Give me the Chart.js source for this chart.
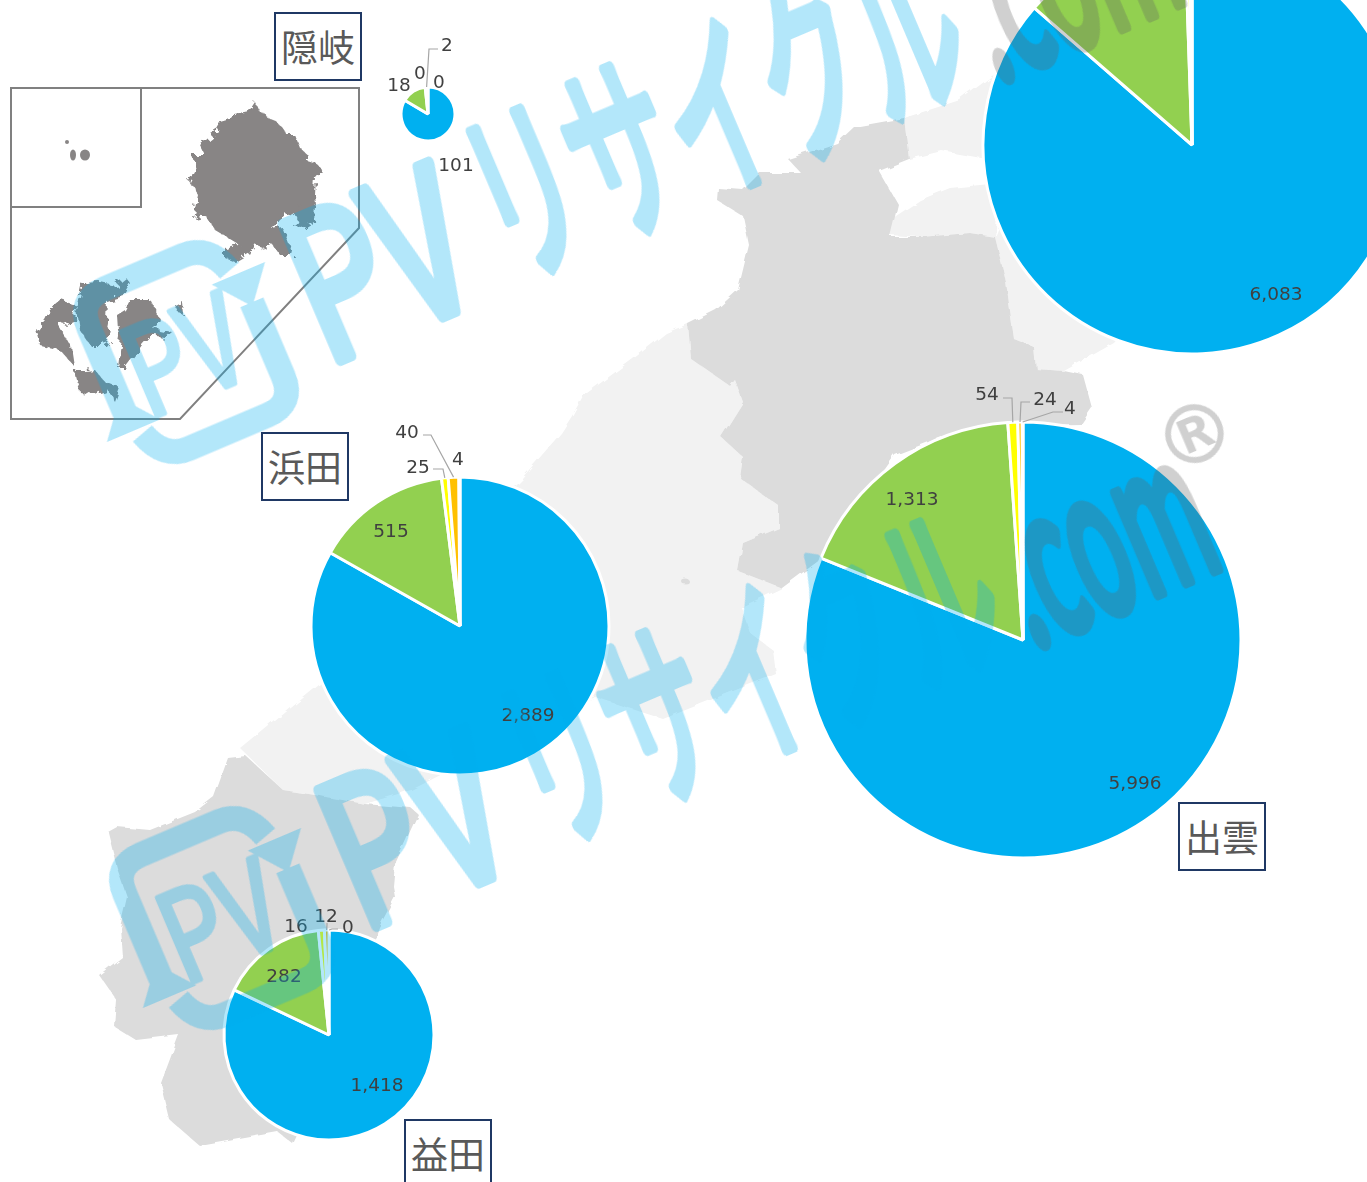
<!DOCTYPE html>
<html lang="ja">
<head>
<meta charset="utf-8">
<title>島根 発電所 円グラフ</title>
<script src="https://cdn.jsdelivr.net/npm/chart.js@4/dist/chart.umd.min.js"></script>
<style>
  html, body { margin: 0; padding: 0; background: #fff; }
  #stage { position: relative; width: 1367px; height: 1182px; overflow: hidden; background: #fff; }
  #stage svg { position: absolute; left: 0; top: 0; }
  .pie { position: absolute; }
  .pie canvas { display: block; }
  .area-box {
    position: absolute; box-sizing: border-box; width: 88px; height: 69px;
    background: #fff; border: 2px solid #1f3864; color: #595959;
    font: 400 37px/65px "Noto Sans CJK JP", sans-serif; text-align: center;
  }
  #watermark { pointer-events: none; }
</style>
</head>
<body>
<div id="stage">
  <!-- map behind the pies -->
  <svg width="1367" height="1182" id="map">
    <defs>
      <filter id="rough" filterUnits="userSpaceOnUse" x="0" y="0" width="1367" height="1182">
        <feTurbulence type="fractalNoise" baseFrequency="0.07" numOctaves="2" seed="4"/>
        <feDisplacementMap in="SourceGraphic" scale="6"/>
      </filter>
      <filter id="spiky" filterUnits="userSpaceOnUse" x="0" y="0" width="400" height="430">
        <feTurbulence type="fractalNoise" baseFrequency="0.12" numOctaves="3" seed="9"/>
        <feDisplacementMap in="SourceGraphic" scale="12"/>
      </filter>
    </defs>
    <g filter="url(#rough)">
      <polygon fill="#f2f2f2" points="904,118 960,100 1000,70 1100,150 1150,300 1114,343 1064,371 1036,369 1034,347 1014,339 1006,282 995,237 1010,200 987,184 987,159 942,151 909,159"/>
      <polygon fill="#f2f2f2" points="887,222 920,200 950,188 990,184 1000,190 995,237 970,233 920,237 890,235"/>
      <polygon fill="#f2f2f2" points="688,324 666,333 633,359 583,396 572,416 561,433 522,478 440,560 319,685 241,749 283,790 315,795 365,804 411,790 470,760 595,697 663,719 776,674 773,650 750,633 741,607 782,588 738,571 743,543 779,528 779,506 740,478 743,457 721,437 743,402 735,380 730,386 691,359"/>
      <polygon fill="#dcdcdc" points="904,118 854,127 837,143 788,159 801,173 760,173 743,190 718,188 717,200 743,216 749,245 738,290 716,310 688,324 691,359 730,386 735,380 743,402 721,437 743,457 740,478 779,506 779,528 743,543 738,571 782,588 821,559 895,455 960,430 1030,425 1081,424 1092,408 1083,375 1064,371 1036,369 1034,347 1014,339 1006,282 995,237 970,233 920,237 890,237 898,204 879,171 909,159"/>
      <polygon fill="#dcdcdc" points="228,758 246,756 283,790 315,795 365,804 411,808 418,814 395,864 393,886 395,897 379,927 340,1040 292,1143 278,1132 200,1146 170,1120 161,1083 179,1035 136,1040 115,1027 117,1001 99,975 122,957 120,927 127,897 117,868 108,832 117,827 150,830 195,812 214,797"/>
      <ellipse cx="686" cy="582" rx="4" ry="2.5" fill="#dcdcdc"/>
    </g>
    <!-- inset frame -->
    <g fill="none" stroke="#808080" stroke-width="2">
      <polygon points="11,88 359,88 359,228 180,419 11,419"/>
      <polyline points="11,207 141,207 141,88"/>
    </g>
    <g fill="#888585" filter="url(#spiky)">
      <polygon points="256,103 260,112 270,118 280,125 287,135 295,135 300,148 308,155 308,162 318,165 322,171 316,178 315,195 316,205 310,215 298,222 293,212 280,220 273,230 283,228 293,255 280,255 273,245 268,250 255,245 250,255 240,245 215,230 205,215 193,218 198,195 190,182 196,170 192,155 205,155 200,145 212,135 220,130 218,120 235,115 250,112"/>
      <polygon points="298,207 315,205 314,222 303,229 295,228 301,216"/>
      <polygon points="225,248 240,243 250,253 235,262 225,258"/>
      <polygon points="83,283 100,282 115,285 125,277 132,285 125,297 107,302 106,320 112,335 105,345 90,345 80,330 77,310"/>
      <polygon points="50,310 62,300 77,305 75,320 65,325 60,322 57,322 70,345 73,365 60,350 40,345 36,330 45,320"/>
      <polygon points="117,315 125,310 130,300 150,300 160,320 152,328 172,332 165,338 150,336 142,345 135,355 125,368 118,368 120,350 122,340 118,330"/>
      <polygon points="75,372 95,370 105,382 120,388 115,402 108,390 95,395 80,392"/>
      <polygon points="175,305 182,301 183,315 178,312"/>
    </g>
    <g fill="#888585">
      <ellipse cx="67" cy="142" rx="2" ry="2"/>
      <ellipse cx="73" cy="155" rx="3" ry="5.5"/>
      <ellipse cx="85" cy="155" rx="5" ry="5.5"/>
    </g>
  </svg>

  <div class="pie" id="pie-matsue"><canvas></canvas></div>
  <div class="pie" id="pie-izumo"><canvas></canvas></div>
  <div class="pie" id="pie-hamada"><canvas></canvas></div>
  <div class="pie" id="pie-masuda"><canvas></canvas></div>
  <div class="pie" id="pie-oki"><canvas></canvas></div>

  <div class="area-box" style="left:274px;top:12px">隠岐</div>
  <div class="area-box" style="left:261px;top:432px">浜田</div>
  <div class="area-box" style="left:1178px;top:802px">出雲</div>
  <div class="area-box" style="left:404px;top:1119px">益田</div>

  <!-- watermark over everything -->
  <svg width="1367" height="1182" id="watermark">
    <defs>
      <g id="wm">
        <g transform="translate(222,918) rotate(-23)" fill="none" stroke="#00aeef" stroke-width="25">
          <path d="M-80,32 L-80,-60 Q-80,-90 -50,-90 L35,-90 Q62,-90 72,-58"/>
          <path d="M80,-20 L80,60 Q80,90 50,90 L-35,90 Q-62,90 -72,58"/>
          <polygon points="50,-52 108,-52 79,-16" fill="#00aeef" stroke="none"/>
          <polygon points="-108,52 -50,52 -79,16" fill="#00aeef" stroke="none"/>
          <text x="-62" y="48" font-family="Noto Sans CJK JP" font-size="125" textLength="118" lengthAdjust="spacingAndGlyphs" fill="#00aeef" stroke-width="5" stroke-linejoin="round">PV</text>
        </g>
        <g transform="translate(362,932) rotate(-23)" font-family="Noto Sans CJK JP" font-size="200" stroke-width="12" stroke-linejoin="round" stroke-linecap="round">
          <text x="0" y="0" textLength="175" lengthAdjust="spacingAndGlyphs" fill="#00aeef" stroke="#00aeef">PV</text>
          <text x="200" y="-8" textLength="515" lengthAdjust="spacingAndGlyphs" fill="#00aeef" stroke="#00aeef">リサイクル</text>
          <text x="728" y="0" textLength="212" lengthAdjust="spacingAndGlyphs" fill="#636363" stroke="#636363">.com</text>
        </g>
      </g>
    </defs>
    <g opacity="0.3">
      <use href="#wm"/>
      <use href="#wm" transform="translate(-36,-566)"/>
      <text x="1195" y="462" text-anchor="middle" font-family="DejaVu Sans" font-size="78" fill="#636363" stroke="#636363" stroke-width="2" transform="rotate(-23 1195 435)">®</text>
    </g>
  </svg>
</div>

<script>
const sliceNames = ["区分1", "区分2", "区分3", "区分4", "区分5"];
const sliceColors = ["#00B0F0", "#92D050", "#FFFF00", "#FFC000", "#FF0000"];

// 松江 is cropped at the top, its small slices are estimated from the green edge
const matsueValues = [6083, 920, 25, 12, 1];
const izumoValues = [5996, 1313, 54, 24, 4];
const hamadaValues = [2889, 515, 25, 40, 4];
const masudaValues = [1418, 282, 16, 12, 0];
const okiValues = [101, 18, 0, 2, 0];

// label spots in page pixels, one per slice (null = not drawn)
const matsueSpots = [[1276, 294], null, null, null, null];
const izumoSpots = [[1135, 783], [912, 499], [987, 394], [1045, 399], [1070, 408]];
const hamadaSpots = [[528, 715], [391, 531], [418, 467], [407, 432], [458, 459]];
const masudaSpots = [[377, 1085], [284, 976], [296, 926], [326, 916], [348, 927]];
const okiSpots = [[456, 165], [399, 85], [420, 73], [447, 45], [439, 82]];

// leader lines: slice index, start and elbow in page pixels, the end comes from the arc
const izumoLeaders = [[2, 1003, 398, 1012, 398], [3, 1030, 402, 1021, 402], [4, 1063, 412, 1053, 412]];
const hamadaLeaders = [[2, 433, 469, 443, 469], [3, 423, 435, 431, 435]];
const masudaLeaders = [[3, 327, 923, 327, 925], [4, 338, 929, 332, 929]];
const okiLeaders = [[3, 438, 49, 429, 49]];

const sliceLabels = {
  id: "sliceLabels",
  afterDatasetsDraw(chart, args, opts) {
    const { ctx } = chart;
    const arcs = chart.getDatasetMeta(0).data;
    const values = chart.data.datasets[0].data;

    ctx.save();
    ctx.strokeStyle = "#a6a6a6";
    ctx.lineWidth = 1.2;
    opts.leaders.forEach(([i, x1, y1, x2, y2]) => {
      const a = arcs[i].getProps(["x", "y", "startAngle", "endAngle", "outerRadius"]);
      const mid = (a.startAngle + a.endAngle) / 2;
      ctx.beginPath();
      ctx.moveTo(x1 - opts.left, y1 - opts.top);
      ctx.lineTo(x2 - opts.left, y2 - opts.top);
      ctx.lineTo(a.x + Math.cos(mid) * a.outerRadius, a.y + Math.sin(mid) * a.outerRadius);
      ctx.stroke();
    });

    ctx.font = '18.5px "DejaVu Sans"';
    ctx.fillStyle = "#404040";
    ctx.textAlign = "center";
    ctx.textBaseline = "middle";
    opts.spots.forEach((spot, i) => {
      if (!spot) return;
      ctx.fillText(values[i].toLocaleString("en-US"), spot[0] - opts.left, spot[1] - opts.top + 1.5);
    });
    ctx.restore();
  },
};

function drawPie(id, values, cx, cy, radius, spots, leaders) {
  const holder = document.getElementById(id);
  const canvas = holder.querySelector("canvas");
  const size = 2 * (radius + 100);
  const left = cx - size / 2;
  const top = cy - size / 2;
  holder.style.left = left + "px";
  holder.style.top = top + "px";
  canvas.width = size;
  canvas.height = size;

  return new Chart(canvas, {
    type: "pie",
    data: {
      labels: sliceNames,
      datasets: [
        {
          data: values,
          backgroundColor: sliceColors,
          borderColor: "#fff",
          borderWidth: 3,
          radius: radius,
        },
      ],
    },
    options: {
      responsive: false,
      animation: false,
      devicePixelRatio: 1,
      plugins: {
        legend: { display: false },
        tooltip: { enabled: false },
        sliceLabels: { spots, leaders, left, top },
      },
    },
    plugins: [sliceLabels],
  });
}

drawPie("pie-matsue", matsueValues, 1192, 145, 209, matsueSpots, []);
drawPie("pie-izumo", izumoValues, 1023, 640, 218, izumoSpots, izumoLeaders);
drawPie("pie-hamada", hamadaValues, 460, 626, 149, hamadaSpots, hamadaLeaders);
drawPie("pie-masuda", masudaValues, 329, 1035, 105, masudaSpots, masudaLeaders);
drawPie("pie-oki", okiValues, 428, 114, 27, okiSpots, okiLeaders);
</script>
</body>
</html>
